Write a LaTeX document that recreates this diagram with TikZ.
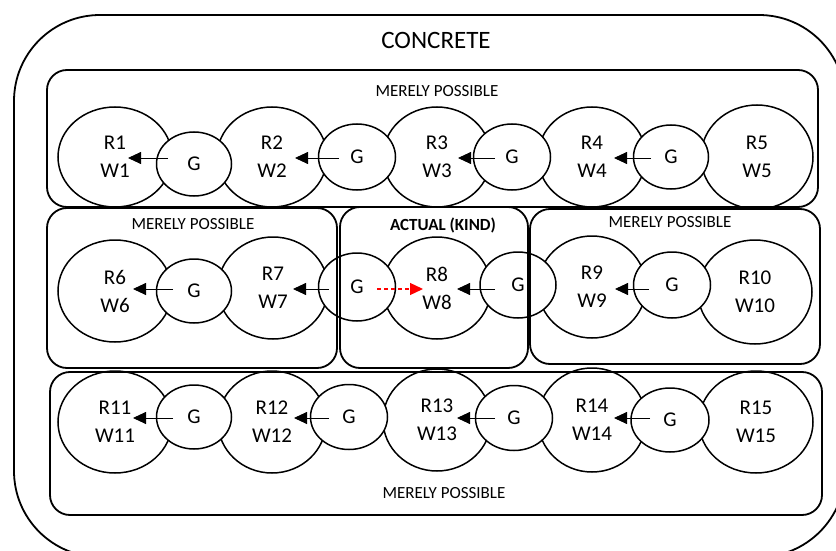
\documentclass[tikz,border=0pt]{standalone}
\usepackage{fontspec}
\setmainfont{Carlito}
\usetikzlibrary{shapes.geometric,arrows.meta}
\tikzset{
  world/.style={ellipse,draw,line width=1.5pt,inner sep=0pt,align=center,font=\fontsize{21}{28}\selectfont},
  god/.style={ellipse,draw,fill=white,line width=1.5pt,inner sep=0pt,font=\fontsize{21}{25}\selectfont},
  arr/.style={line width=0.9pt,-{Triangle[length=13pt,width=12pt]}},
  redarr/.style={red,line width=1.3pt,dash pattern=on 4pt off 3pt,-{Triangle[length=13pt,width=12pt,color=red]}},
  box/.style={rectangle,draw,line width=1.8pt,rounded corners=20pt,inner sep=0pt},
  lab/.style={font=\fontsize{17}{20}\selectfont,inner sep=0pt},
}
\begin{document}
\begin{tikzpicture}[x=1pt,y=-1pt]
\useasboundingbox (0,0) rectangle (836,551);
\clip (0,0) rectangle (836,551);
% worlds
\node[world,minimum width=114pt,minimum height=100pt] (r1) at (115,157) {R1\\W1};
\node[world,minimum width=110pt,minimum height=100pt] (r2) at (272,157) {R2\\W2};
\node[world,minimum width=108pt,minimum height=100pt] (r3) at (437,157) {R3\\W3};
\node[world,minimum width=108pt,minimum height=100pt] (r4) at (592,157) {R4\\W4};
\node[world,minimum width=112pt,minimum height=104pt] (r5) at (757,157) {R5\\W5};
\node[world,minimum width=114pt,minimum height=102pt] (r6) at (115,291) {R6\\W6};
\node[world,minimum width=110pt,minimum height=102pt] (r7) at (273,288) {R7\\W7};
\node[world,minimum width=108pt,minimum height=102pt] (r8) at (437,288) {R8\\W8};
\node[world,minimum width=108pt,minimum height=102pt] (r9) at (592,287) {R9\\W9};
\node[world,minimum width=114pt,minimum height=104pt] (r10) at (755,292) {R10\\W10};
\node[world,minimum width=114pt,minimum height=102pt] (r11) at (115,422) {R11\\W11};
\node[world,minimum width=108pt,minimum height=102pt] (r12) at (272,422) {R12\\W12};
\node[world,minimum width=108pt,minimum height=102pt] (r13) at (437,420) {R13\\W13};
\node[world,minimum width=108pt,minimum height=104pt] (r14) at (592,420) {R14\\W14};
\node[world,minimum width=114pt,minimum height=102pt] (r15) at (756,422) {R15\\W15};
% gods
\node[god,minimum width=75pt,minimum height=64pt] (g1) at (194,164) {G};
\node[god,minimum width=77pt,minimum height=66pt] (g2) at (357,157) {G};
\node[god,minimum width=77pt,minimum height=66pt] (g3) at (512,157) {G};
\node[god,minimum width=75pt,minimum height=64pt] (g4) at (671,157) {G};
\node[god,minimum width=75pt,minimum height=64pt] (g6) at (194,291) {G};
\node[god,minimum width=77pt,minimum height=68pt] (g7) at (357,287) {G};
\node[god,minimum width=76pt,minimum height=66pt] (g8) at (518,285) {G};
\node[god,minimum width=77pt,minimum height=66pt] (g9) at (672,285) {G};
\node[god,minimum width=75pt,minimum height=64pt] (g11) at (194,417) {G};
\node[god,minimum width=77pt,minimum height=65pt] (g12) at (349,417) {G};
\node[god,minimum width=77pt,minimum height=65pt] (g13) at (514,418) {G};
\node[god,minimum width=78pt,minimum height=64pt] (g14) at (670,420) {G};
% arrows
\draw[arr] ([shift={(-26,-6)}]g1.center) -- ([shift={(13,1)}]r1.center);
\draw[arr] ([shift={(-18,1)}]g2.center) -- ([shift={(23,1)}]r2.center);
\draw[arr] ([shift={(-17,1)}]g3.center) -- ([shift={(21,1)}]r3.center);
\draw[arr] ([shift={(-20,1)}]g4.center) -- ([shift={(22,1)}]r4.center);
\draw[arr] ([shift={(-21,-2)}]g6.center) -- ([shift={(18,-2)}]r6.center);
\draw[arr] ([shift={(-28,2)}]g7.center) -- ([shift={(20,1)}]r7.center);
\draw[redarr] ([shift={(20,2)}]g7.center) -- ([shift={(-14,1)}]r8.center);
\draw[arr] ([shift={(-23,4)}]g8.center) -- ([shift={(20,1)}]r8.center);
\draw[arr] ([shift={(-23,4)}]g9.center) -- ([shift={(23,2)}]r9.center);
\draw[arr] ([shift={(-21,1)}]g11.center) -- ([shift={(18,-4)}]r11.center);
\draw[arr] ([shift={(-20,1)}]g12.center) -- ([shift={(22,-4)}]r12.center);
\draw[arr] ([shift={(-19,0)}]g13.center) -- ([shift={(20,-2)}]r13.center);
\draw[arr] ([shift={(-20,-2)}]g14.center) -- ([shift={(22,-2)}]r14.center);
% boxes
\node[box,rounded corners=86pt,minimum width=831pt,minimum height=542pt] (concrete) at (429.5,286) {};
\node[box,minimum width=771pt,minimum height=137pt] (topbox) at (432.5,138.5) {};
\node[box,minimum width=290pt,minimum height=160pt] (leftbox) at (192,288) {};
\node[box,minimum width=188pt,minimum height=161pt] (actbox) at (434,287.5) {};
\node[box,minimum width=290pt,minimum height=155pt] (rightbox) at (675,286.5) {};
\node[box,minimum width=772pt,minimum height=143pt] (botbox) at (436,443.5) {};
% labels
\node[inner sep=0pt,font=\fontsize{25}{30}\selectfont] (tconc) at (436,40) {CONCRETE};
\node[lab] (ttop) at (437,91) {MERELY POSSIBLE};
\node[lab] (tleft) at (193,224) {MERELY POSSIBLE};
\node[lab,font=\fontsize{17}{20}\selectfont\bfseries] (tact) at (443,225) {ACTUAL (KIND)};
\node[lab] (tright) at (670,222) {MERELY POSSIBLE};
\node[lab] (tbot) at (444,493) {MERELY POSSIBLE};
\end{tikzpicture}
\end{document}
